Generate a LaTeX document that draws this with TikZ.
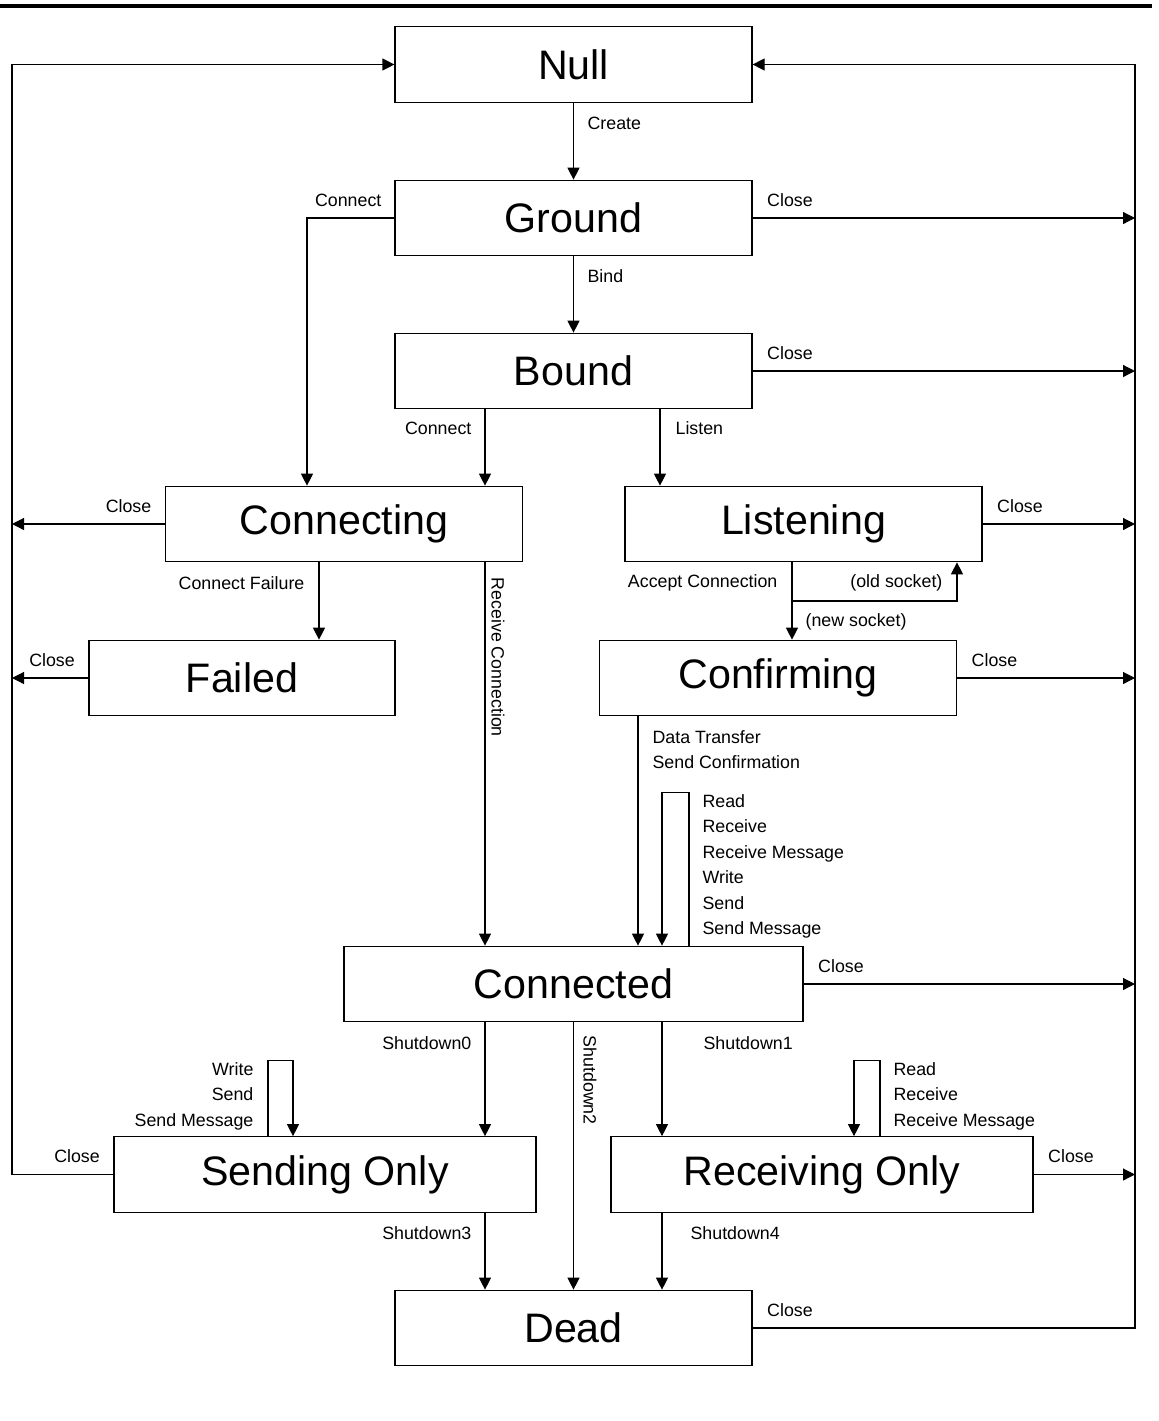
\documentclass[tikz,border=0pt]{standalone}
\usepackage{fontspec}
\setmainfont{Liberation Sans}
\usepackage{tikz}
\usetikzlibrary{arrows.meta,positioning}

\begin{document}
\begin{tikzpicture}[x=0.5pt, y=-0.5pt, >={Triangle[length=6pt,width=6pt]}, line width=0.6pt,
  state/.style={draw, rectangle, minimum width=178.5pt, minimum height=37.75pt, inner sep=0pt, font=\fontsize{20.6}{24}\selectfont},
  lbl/.style={inner sep=0pt, font=\fontsize{8.9}{12.7}\selectfont},
  closeR/.style={lbl, pos=0, anchor=west, xshift=7pt, yshift=9pt},
  closeL/.style={lbl, pos=0, anchor=east, xshift=-6.5pt, yshift=9pt}]
\useasboundingbox (0,0) rectangle (1159,1421);
\draw[line width=2pt] (0,6) -- (1152,6);

\node[state] (null) at (573.5,64.5) {Null};
\node[state] (ground) at (573.5,218) {Ground};
\node[state] (bound) at (573.5,371) {Bound};
\node[state] (connecting) at (344,524) {Connecting};
\node[state] (listening) at (803.5,524) {Listening};
\node[state, minimum width=153pt] (failed) at (242,678) {Failed};
\node[state] (confirming) at (778,678) {Confirming};
\node[state, minimum width=229.5pt] (connected) at (573.5,984) {Connected};
\node[state, minimum width=211pt] (sending) at (325,1174.5) {Sending Only};
\node[state, minimum width=211pt] (receiving) at (822,1174.5) {Receiving Only};
\node[state] (dead) at (573.5,1328) {Dead};

% side rails
\coordinate (lrail) at (12,0);
\coordinate (rrail) at (1135,0);
\coordinate (split) at (792,601);

\draw[->] (null) -- (ground) node[lbl, anchor=west] at (587,123) {Create};
\draw[->] (ground) -- (bound) node[lbl, anchor=west] at (587,276) {Bind};
\draw[->] (ground.west) -| (connecting.north -| 307,0) node[lbl, anchor=east] at (382,200) {Connect};
\draw[->] (bound.south -| 485,0) -- (connecting.north -| 485,0) node[lbl, anchor=east] at (472,428) {Connect};
\draw[->] (bound.south -| 660,0) -- (listening.north -| 660,0) node[lbl, anchor=west] at (675,428) {Listen};
\draw[->] (connecting.south -| 319,0) -- (failed.north -| 319,0) node[lbl, anchor=east] at (305,583) {Connect Failure};
\draw[->] (connecting.south -| 485,0) -- (connected.north -| 485,0) node[lbl, rotate=-90, anchor=west] at (498,577) {Receive Connection};
\draw[->] (listening.south -| 792,0) -- (confirming.north -| 792,0)
  node[lbl, anchor=east] at (778,583) {Accept Connection}
  node[lbl, anchor=west] at (805,622) {(new socket)};
\draw[->] (split) -| (listening.south -| 957,0) node[lbl, anchor=east] at (943,583) {(old socket)};
\draw[->] (confirming.south -| 638,0) -- (connected.north -| 638,0)
  node[lbl, anchor=north west, align=left] at (652,730) {Data Transfer\\Send Confirmation};
\draw[->] (connected.north -| 689,0) -- ++(0,-153) -| (connected.north -| 662,0)
  node[lbl, anchor=north west, align=left] at (702,794) {Read\\Receive\\Receive Message\\Write\\Send\\Send Message};

\draw[->] (connected.south -| 485,0) -- (sending.north -| 485,0) node[lbl, anchor=east] at (472,1043) {Shutdown0};
\draw[->] (connected) -- (dead) node[lbl, rotate=-90, anchor=west] at (590,1035) {Shutdown2};
\draw[->] (connected.south -| 662,0) -- (receiving.north -| 662,0) node[lbl, anchor=west] at (703,1043) {Shutdown1};
\draw[->] (sending.north -| 268,0) -- ++(0,-76) -| (sending.north -| 293,0)
  node[lbl, anchor=north east, align=right] at (254,1062) {Write\\Send\\Send Message};
\draw[->] (receiving.north -| 880,0) -- ++(0,-76) -| (receiving.north -| 854,0)
  node[lbl, anchor=north west, align=left] at (893,1062) {Read\\Receive\\Receive Message};
\draw[->] (sending.south -| 485,0) -- (dead.north -| 485,0) node[lbl, anchor=east] at (472,1233) {Shutdown3};
\draw[->] (receiving.south -| 662,0) -- (dead.north -| 662,0) node[lbl, anchor=west] at (690,1233) {Shutdown4};

% close transitions
\draw[->] (ground.east) -- (ground.east -| rrail) node[closeR] {Close};
\draw[->] (bound.east) -- (bound.east -| rrail) node[closeR] {Close};
\draw[->] (listening.east) -- (listening.east -| rrail) node[closeR] {Close};
\draw[->] (confirming.east) -- (confirming.east -| rrail) node[closeR] {Close};
\draw[->] (connected.east) -- (connected.east -| rrail) node[closeR] {Close};
\draw[->] (receiving.east) -- (receiving.east -| rrail) node[closeR] {Close};
\draw[->] (dead.east) -- (dead.east -| rrail) node[closeR] {Close} -- (rrail |- null.east) -- (null.east);
\draw[->] (connecting.west) -- (connecting.west -| lrail) node[closeL] {Close};
\draw[->] (failed.west) -- (failed.west -| lrail) node[closeL] {Close};
\draw[->] (sending.west) -- (sending.west -| lrail) node[closeL] {Close} -- (lrail |- null.west) -- (null.west);

\end{tikzpicture}
\end{document}
